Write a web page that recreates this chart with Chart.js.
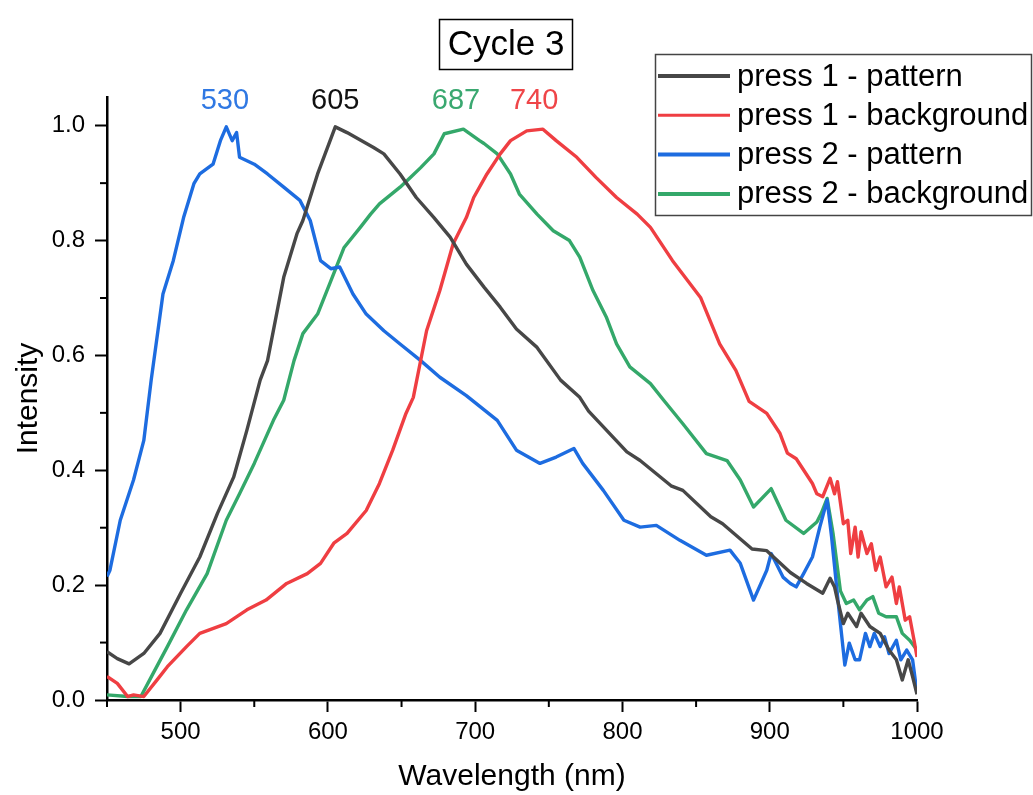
<!DOCTYPE html>
<html>
<head>
<meta charset="utf-8">
<title>Cycle 3</title>
<script src="https://cdn.jsdelivr.net/npm/chart.js@4.4.1/dist/chart.umd.min.js"></script>
<style>
  body { margin: 0; background: #fff; }
  canvas { display: block; }
</style>
</head>
<body>
<canvas id="spectraChart" width="1033" height="795"></canvas>
<script>
// press 1 - pattern
const p1PatternNm = [450, 457, 465, 475, 486, 500, 513, 525, 536, 545, 554, 559, 570, 579, 583, 593, 605, 613, 631, 638, 649, 660, 672, 683, 694, 706, 717, 728, 742, 758, 771, 777, 803, 812, 833, 841, 860, 868, 888, 898, 914, 925, 936, 941, 944, 946, 950, 953, 959, 962, 968, 975, 981, 986, 990, 994, 997, 1000];
const p1PatternI = [0.084, 0.072, 0.063, 0.081, 0.116, 0.186, 0.249, 0.325, 0.388, 0.47, 0.557, 0.591, 0.736, 0.812, 0.835, 0.916, 0.998, 0.988, 0.962, 0.951, 0.916, 0.875, 0.84, 0.806, 0.759, 0.719, 0.684, 0.646, 0.614, 0.557, 0.527, 0.503, 0.432, 0.417, 0.373, 0.365, 0.319, 0.307, 0.263, 0.26, 0.222, 0.203, 0.186, 0.212, 0.197, 0.174, 0.133, 0.151, 0.128, 0.151, 0.128, 0.116, 0.087, 0.07, 0.035, 0.07, 0.041, 0.01];

// press 1 - background
const p1BackNm = [450, 457, 464, 468, 475, 484, 491, 504, 513, 531, 545, 558, 572, 586, 595, 604, 613, 626, 635, 644, 653, 658, 667, 676, 685, 694, 699, 708, 717, 724, 735, 746, 755, 769, 782, 796, 810, 819, 834, 853, 866, 877, 886, 898, 907, 912, 918, 929, 932, 936, 941, 944, 946, 950, 953, 955, 958, 960, 962, 966, 969, 972, 975, 979, 983, 986, 988, 992, 995, 998, 1000];
const p1BackI = [0.041, 0.029, 0.006, 0.009, 0.006, 0.035, 0.058, 0.093, 0.116, 0.133, 0.157, 0.174, 0.203, 0.22, 0.238, 0.273, 0.29, 0.33, 0.377, 0.435, 0.499, 0.527, 0.643, 0.713, 0.794, 0.84, 0.875, 0.916, 0.951, 0.974, 0.991, 0.994, 0.974, 0.945, 0.91, 0.875, 0.846, 0.823, 0.765, 0.701, 0.62, 0.574, 0.52, 0.499, 0.464, 0.43, 0.42, 0.377, 0.359, 0.354, 0.386, 0.359, 0.38, 0.307, 0.313, 0.255, 0.301, 0.249, 0.293, 0.255, 0.272, 0.226, 0.249, 0.197, 0.214, 0.168, 0.197, 0.139, 0.145, 0.104, 0.075];

// press 2 - pattern
const p2PatternNm = [450, 452, 459, 468, 475, 480, 488, 495, 502, 509, 513, 522, 527, 531, 535, 538, 540, 550, 559, 570, 581, 588, 595, 602, 608, 617, 626, 638, 649, 663, 676, 694, 715, 728, 744, 755, 767, 773, 787, 801, 812, 823, 839, 857, 873, 880, 889, 898, 901, 909, 914, 918, 923, 929, 934, 939, 942, 947, 951, 954, 958, 961, 965, 968, 971, 975, 978, 981, 986, 989, 993, 997, 1000];
const p2PatternI = [0.215, 0.226, 0.313, 0.383, 0.452, 0.557, 0.707, 0.765, 0.84, 0.899, 0.916, 0.933, 0.974, 0.998, 0.974, 0.988, 0.945, 0.933, 0.916, 0.893, 0.87, 0.835, 0.765, 0.751, 0.754, 0.707, 0.672, 0.643, 0.62, 0.591, 0.562, 0.53, 0.487, 0.435, 0.412, 0.423, 0.438, 0.412, 0.365, 0.313, 0.301, 0.304, 0.278, 0.252, 0.261, 0.238, 0.174, 0.226, 0.255, 0.214, 0.203, 0.197, 0.22, 0.249, 0.301, 0.348, 0.284, 0.157, 0.061, 0.099, 0.07, 0.07, 0.116, 0.093, 0.116, 0.093, 0.11, 0.081, 0.104, 0.07, 0.087, 0.07, 0.012];

// press 2 - background
const p2BackNm = [450, 464, 473, 479, 491, 504, 518, 531, 540, 550, 563, 570, 577, 583, 593, 602, 611, 622, 629, 635, 649, 656, 663, 672, 679, 692, 703, 706, 715, 724, 730, 742, 753, 764, 771, 780, 789, 796, 805, 819, 828, 841, 857, 871, 880, 889, 901, 911, 923, 932, 935, 939, 943, 948, 952, 957, 961, 966, 970, 974, 979, 986, 990, 995, 1000];
const p2BackI = [0.009, 0.006, 0.006, 0.035, 0.093, 0.157, 0.22, 0.313, 0.359, 0.412, 0.487, 0.522, 0.591, 0.638, 0.672, 0.73, 0.788, 0.823, 0.846, 0.864, 0.893, 0.91, 0.927, 0.951, 0.986, 0.994, 0.974, 0.969, 0.951, 0.916, 0.881, 0.846, 0.817, 0.8, 0.771, 0.713, 0.667, 0.62, 0.58, 0.551, 0.522, 0.481, 0.429, 0.417, 0.383, 0.336, 0.368, 0.313, 0.29, 0.31, 0.325, 0.351, 0.29, 0.19, 0.168, 0.174, 0.157, 0.174, 0.18, 0.151, 0.145, 0.145, 0.116, 0.104, 0.087];

const seriesLabels = ['press 1 - pattern', 'press 1 - background', 'press 2 - pattern', 'press 2 - background'];
const peakNm = [530, 605, 687, 740];

const xTicks = [500, 600, 700, 800, 900, 1000];
const xMinorTicks = [450, 550, 650, 750, 850, 950];
const yTicks = [0, 0.2, 0.4, 0.6, 0.8, 1.0];
const yMinorTicks = [0.1, 0.3, 0.5, 0.7, 0.9];

const FONT = '"Liberation Sans", Arial, sans-serif';
const colors = ['#474747', '#ef3e42', '#1d6ce0', '#34a86a'];
const peakColors = ['#2f78e3', '#111111', '#3aa870', '#ef4548'];

const toPoints = (xs, ys) => xs.map((v, i) => ({ x: v, y: ys[i] }));

const extras = {
    id: 'extras',
    afterDraw(chart) {
        const { ctx, chartArea } = chart;
        const x = chart.scales.x;
        const y = chart.scales.y;
        ctx.save();

        // minor ticks
        ctx.strokeStyle = '#000';
        ctx.lineWidth = 2;
        xMinorTicks.forEach(v => {
            const px = x.getPixelForValue(v);
            ctx.beginPath();
            ctx.moveTo(px, chartArea.bottom);
            ctx.lineTo(px, chartArea.bottom + 7);
            ctx.stroke();
        });
        yMinorTicks.forEach(v => {
            const py = y.getPixelForValue(v);
            ctx.beginPath();
            ctx.moveTo(chartArea.left, py);
            ctx.lineTo(chartArea.left - 7, py);
            ctx.stroke();
        });

        // boxed title
        ctx.lineWidth = 1.5;
        ctx.strokeStyle = '#000';
        ctx.strokeRect(439.5, 19.5, 133, 50);
        ctx.fillStyle = '#000';
        ctx.font = '35px ' + FONT;
        ctx.textAlign = 'center';
        ctx.textBaseline = 'middle';
        ctx.fillText('Cycle 3', 506, 45);

        // peak labels
        ctx.font = '29px ' + FONT;
        peakNm.forEach((v, i) => {
            ctx.fillStyle = peakColors[i];
            ctx.fillText(String(v), x.getPixelForValue(v), 101);
        });

        // legend
        ctx.strokeStyle = '#444';
        ctx.lineWidth = 1.5;
        ctx.strokeRect(655.5, 54.5, 376, 161);
        ctx.font = '31px ' + FONT;
        ctx.textAlign = 'left';
        chart.data.datasets.forEach((ds, i) => {
            const rowY = 76 + i * 39.3;
            ctx.strokeStyle = ds.borderColor;
            ctx.lineWidth = i === 1 ? 3 : 4;
            ctx.beginPath();
            ctx.moveTo(658, rowY);
            ctx.lineTo(730, rowY);
            ctx.stroke();
            ctx.fillStyle = '#000';
            ctx.fillText(ds.label, 737, rowY + 1);
        });
        ctx.restore();
    }
};

const seriesData = [
    toPoints(p1PatternNm, p1PatternI),
    toPoints(p1BackNm, p1BackI),
    toPoints(p2PatternNm, p2PatternI),
    toPoints(p2BackNm, p2BackI)
];

const ctx = document.getElementById('spectraChart').getContext('2d');
new Chart(ctx, {
    type: 'line',
    data: {
        datasets: seriesData.map((pts, i) => ({
            label: seriesLabels[i],
            data: pts,
            borderColor: colors[i],
            backgroundColor: colors[i],
            borderWidth: 3.4,
            borderJoinStyle: 'round',
            pointRadius: 0,
            tension: 0,
            fill: false
        }))
    },
    options: {
        responsive: false,
        animation: false,
        layout: { padding: { top: 97, right: 116, left: 0, bottom: 0 } },
        plugins: {
            legend: { display: false },
            tooltip: { enabled: false }
        },
        scales: {
            x: {
                type: 'linear',
                min: 450,
                max: 1000,
                afterBuildTicks: s => { s.ticks = xTicks.map(v => ({ value: v })); },
                afterFit: s => { s.height = 95; },
                grid: { display: true, drawOnChartArea: false, drawTicks: true, tickLength: 12, tickWidth: 2, tickColor: '#000' },
                border: { display: true, color: '#000', width: 2.5 },
                ticks: { font: { size: 24, family: FONT }, color: '#000', padding: 6, maxRotation: 0, callback: v => String(v) },
                title: { display: true, text: 'Wavelength (nm)', font: { size: 30, family: FONT }, color: '#000', padding: 0 }
            },
            y: {
                type: 'linear',
                min: 0,
                max: 1.05,
                afterBuildTicks: s => { s.ticks = yTicks.map(v => ({ value: v })); },
                afterFit: s => { s.width = 107; },
                grid: { display: true, drawOnChartArea: false, drawTicks: true, tickLength: 12, tickWidth: 2, tickColor: '#000' },
                border: { display: true, color: '#000', width: 2.5 },
                ticks: { font: { size: 24, family: FONT }, color: '#000', padding: 10, callback: v => Number(v).toFixed(1) },
                title: { display: true, text: 'Intensity', font: { size: 30, family: FONT }, color: '#000', padding: { top: 11, bottom: 0 } }
            }
        }
    },
    plugins: [extras]
});
</script>
</body>
</html>
